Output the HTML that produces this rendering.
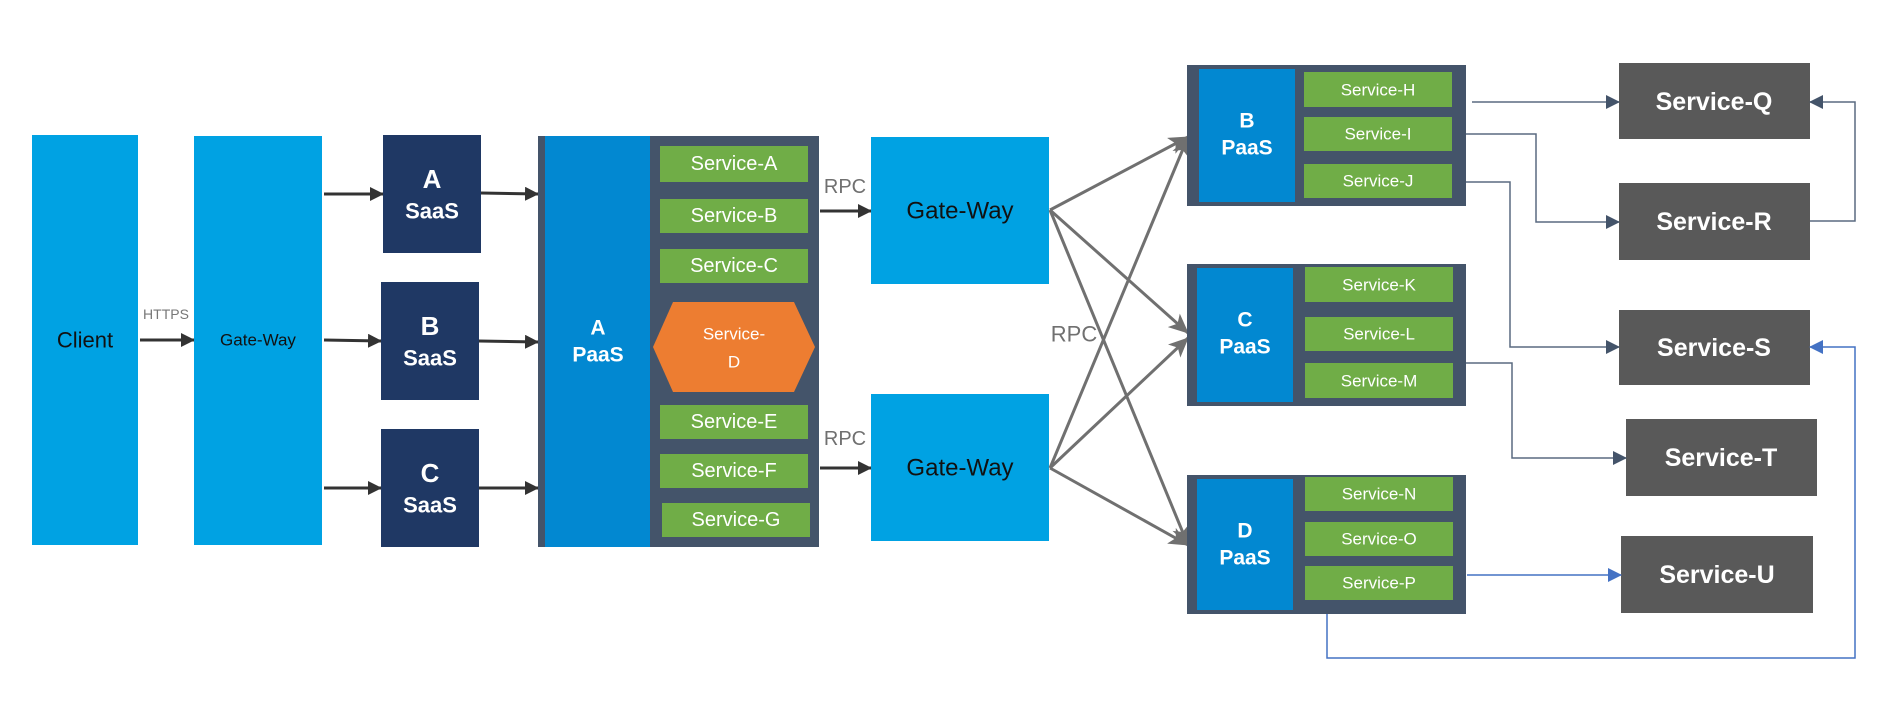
<!DOCTYPE html>
<html><head><meta charset="utf-8"><style>
html,body{margin:0;padding:0;background:#fff;}
svg{display:block;font-family:"Liberation Sans",sans-serif;}
.s{fill:#fff;font-size:20px;text-anchor:middle;dominant-baseline:central;}
.m{fill:#fff;font-size:17px;text-anchor:middle;dominant-baseline:central;}
.b{fill:#fff;font-weight:bold;text-anchor:middle;dominant-baseline:central;}
</style></head><body>
<svg width="1897" height="719" viewBox="0 0 1897 719" xmlns="http://www.w3.org/2000/svg">
<defs>
<marker id="ak" markerWidth="14" markerHeight="14" refX="13" refY="7" orient="auto" markerUnits="userSpaceOnUse"><path d="M0,0 L14,7 L0,14 z" fill="#333"/></marker>
<marker id="ag" markerWidth="20" markerHeight="18" refX="19" refY="9" orient="auto" markerUnits="userSpaceOnUse"><path d="M0,0 L20,9 L0,18 L5,9 z" fill="#707070"/></marker>
<marker id="an" markerWidth="14" markerHeight="14" refX="13" refY="7" orient="auto" markerUnits="userSpaceOnUse"><path d="M0,0 L14,7 L0,14 z" fill="#44546a"/></marker>
<marker id="ab" markerWidth="14" markerHeight="14" refX="13" refY="7" orient="auto" markerUnits="userSpaceOnUse"><path d="M0,0 L14,7 L0,14 z" fill="#4472c4"/></marker>
</defs>

<rect x="32" y="135" width="106" height="410" fill="#00a2e3"/>
<text x="85" y="340" fill="#111" font-size="22" text-anchor="middle" dominant-baseline="central">Client</text>
<text x="166" y="314" fill="#777" font-size="14" text-anchor="middle" dominant-baseline="central">HTTPS</text>
<line x1="140" y1="340" x2="194" y2="340" stroke="#333" stroke-width="3" marker-end="url(#ak)"/>

<rect x="194" y="136" width="128" height="409" fill="#00a2e3"/>
<text x="258" y="340" fill="#111" font-size="17" text-anchor="middle" dominant-baseline="central">Gate-Way</text>

<g stroke="#333" stroke-width="3" marker-end="url(#ak)">
<line x1="324" y1="194" x2="383" y2="194"/>
<line x1="324" y1="340" x2="381" y2="341"/>
<line x1="324" y1="488" x2="381" y2="488"/>
<line x1="481" y1="193" x2="538" y2="194"/>
<line x1="479" y1="341" x2="538" y2="342"/>
<line x1="479" y1="488" x2="538" y2="488"/>
</g>

<rect x="383" y="135" width="98" height="118" fill="#1f3864"/>
<text class="b" x="432" y="179" font-size="26">A</text><text class="b" x="432" y="211" font-size="22">SaaS</text>
<rect x="381" y="282" width="98" height="118" fill="#1f3864"/>
<text class="b" x="430" y="326" font-size="26">B</text><text class="b" x="430" y="358" font-size="22">SaaS</text>
<rect x="381" y="429" width="98" height="118" fill="#1f3864"/>
<text class="b" x="430" y="473" font-size="26">C</text><text class="b" x="430" y="505" font-size="22">SaaS</text>

<rect x="538" y="136" width="281" height="411" fill="#44546a"/>
<rect x="545" y="136" width="105" height="411" fill="#0288d1"/>
<text class="b" x="598" y="328" font-size="21">A</text><text class="b" x="598" y="355" font-size="21">PaaS</text>
<g fill="#70ad47">
<rect x="660" y="146" width="148" height="36"/>
<rect x="660" y="199" width="148" height="34"/>
<rect x="660" y="249" width="148" height="34"/>
<rect x="660" y="405" width="148" height="34"/>
<rect x="660" y="454" width="148" height="34"/>
<rect x="662" y="503" width="148" height="34"/>
</g>
<text class="s" x="734" y="164">Service-A</text>
<text class="s" x="734" y="216">Service-B</text>
<text class="s" x="734" y="266">Service-C</text>
<text class="s" x="734" y="422">Service-E</text>
<text class="s" x="734" y="471">Service-F</text>
<text class="s" x="736" y="520">Service-G</text>
<polygon points="653,347 673,302 794,302 815,347 794,392 673,392" fill="#ed7d31"/>
<text class="m" x="734" y="334">Service-</text>
<text class="m" x="734" y="362">D</text>

<text x="845" y="187" fill="#707070" font-size="20" text-anchor="middle" dominant-baseline="central">RPC</text>
<text x="845" y="439" fill="#707070" font-size="20" text-anchor="middle" dominant-baseline="central">RPC</text>
<line x1="820" y1="211" x2="871" y2="211" stroke="#333" stroke-width="3" marker-end="url(#ak)"/>
<line x1="820" y1="468" x2="871" y2="468" stroke="#333" stroke-width="3" marker-end="url(#ak)"/>

<rect x="871" y="137" width="178" height="147" fill="#00a2e3"/>
<text x="960" y="211" fill="#111" font-size="24" text-anchor="middle" dominant-baseline="central">Gate-Way</text>
<rect x="871" y="394" width="178" height="147" fill="#00a2e3"/>
<text x="960" y="468" fill="#111" font-size="24" text-anchor="middle" dominant-baseline="central">Gate-Way</text>

<g stroke="#707070" stroke-width="3" marker-end="url(#ag)">
<line x1="1050" y1="210" x2="1188" y2="137"/>
<line x1="1050" y1="210" x2="1188" y2="333"/>
<line x1="1050" y1="210" x2="1188" y2="545"/>
<line x1="1050" y1="468" x2="1188" y2="137"/>
<line x1="1050" y1="468" x2="1188" y2="338"/>
<line x1="1050" y1="468" x2="1188" y2="545"/>
</g>
<text x="1074" y="334" fill="#707070" font-size="22" text-anchor="middle" dominant-baseline="central">RPC</text>

<rect x="1187" y="65" width="279" height="141" fill="#44546a"/>
<rect x="1199" y="69" width="96" height="133" fill="#0288d1"/>
<text class="b" x="1247" y="121" font-size="21">B</text><text class="b" x="1247" y="148" font-size="21">PaaS</text>
<rect x="1187" y="264" width="279" height="142" fill="#44546a"/>
<rect x="1197" y="268" width="96" height="134" fill="#0288d1"/>
<text class="b" x="1245" y="320" font-size="21">C</text><text class="b" x="1245" y="347" font-size="21">PaaS</text>
<rect x="1187" y="475" width="279" height="139" fill="#44546a"/>
<rect x="1197" y="479" width="96" height="131" fill="#0288d1"/>
<text class="b" x="1245" y="531" font-size="21">D</text><text class="b" x="1245" y="558" font-size="21">PaaS</text>
<g fill="#70ad47">
<rect x="1304" y="72" width="148" height="35"/><rect x="1304" y="117" width="148" height="34"/><rect x="1304" y="164" width="148" height="34"/>
<rect x="1305" y="267" width="148" height="35"/><rect x="1305" y="317" width="148" height="34"/><rect x="1305" y="363" width="148" height="35"/>
<rect x="1305" y="477" width="148" height="34"/><rect x="1305" y="522" width="148" height="34"/><rect x="1305" y="566" width="148" height="34"/>
</g>
<text class="m" x="1378" y="90">Service-H</text>
<text class="m" x="1378" y="134">Service-I</text>
<text class="m" x="1378" y="181">Service-J</text>
<text class="m" x="1379" y="285">Service-K</text>
<text class="m" x="1379" y="334">Service-L</text>
<text class="m" x="1379" y="381">Service-M</text>
<text class="m" x="1379" y="494">Service-N</text>
<text class="m" x="1379" y="539">Service-O</text>
<text class="m" x="1379" y="583">Service-P</text>

<g fill="#595959">
<rect x="1619" y="63" width="191" height="76"/>
<rect x="1619" y="183" width="191" height="77"/>
<rect x="1619" y="310" width="191" height="75"/>
<rect x="1626" y="419" width="191" height="77"/>
<rect x="1621" y="536" width="192" height="77"/>
</g>
<text class="b" x="1714" y="102" font-size="25">Service-Q</text>
<text class="b" x="1714" y="222" font-size="25">Service-R</text>
<text class="b" x="1714" y="348" font-size="25">Service-S</text>
<text class="b" x="1721" y="458" font-size="25">Service-T</text>
<text class="b" x="1717" y="575" font-size="25">Service-U</text>

<g fill="none" stroke="#5a6a80" stroke-width="1.5" marker-end="url(#an)">
<polyline points="1472,102 1619,102"/>
<polyline points="1466,134 1536,134 1536,222 1619,222"/>
<polyline points="1466,182 1510,182 1510,347 1619,347"/>
<polyline points="1466,363 1512,363 1512,458 1626,458"/>
<polyline points="1810,221 1855,221 1855,102 1810,102"/>
</g>
<g fill="none" stroke="#4472c4" stroke-width="1.5" marker-end="url(#ab)">
<polyline points="1467,575 1621,575"/>
<polyline points="1327,614 1327,658 1855,658 1855,347 1810,347"/>
</g>
</svg>
</body></html>
